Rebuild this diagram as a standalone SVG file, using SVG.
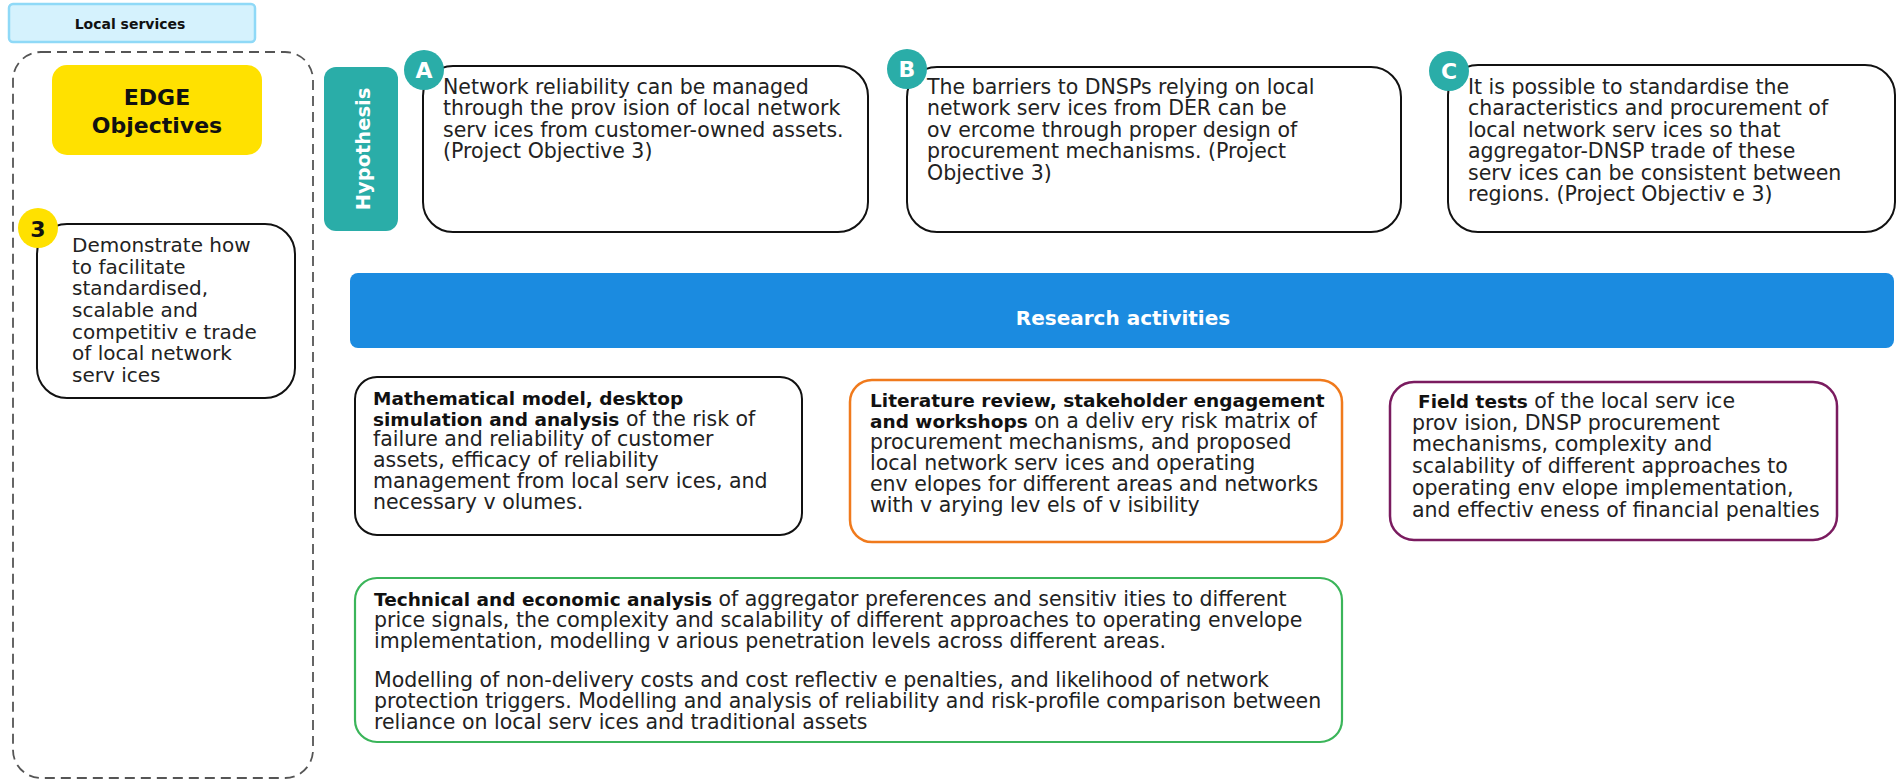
<svg xmlns="http://www.w3.org/2000/svg" width="1904" height="779" viewBox="0 0 1904 779">
<style>
text { font-family: "DejaVu Sans", "Liberation Sans", sans-serif; }
.t { font-size: 20.5px; fill: #222; }
.to { font-size: 20px; fill: #222; }
.b { font-weight: bold; font-size: 18.5px; fill: #111; }
.box { fill: #fff; stroke: #111; stroke-width: 2; }
.teal { fill: #2aada8; }
.letter { font-weight: bold; font-size: 22px; fill: #fff; text-anchor: middle; }
</style>
<rect width="1904" height="779" fill="#fff"/>

<g id="local-services">
  <rect x="9" y="4" width="246" height="38" rx="4" fill="#d5f2fd" stroke="#8fd9f7" stroke-width="2.5"/>
  <text x="130" y="29" text-anchor="middle" style="font-weight:bold;font-size:14px;fill:#111">Local services</text>
</g>

<g id="objectives-panel">
  <rect x="13" y="52" width="300" height="726" rx="28" fill="none" stroke="#555" stroke-width="1.8" stroke-dasharray="10 6"/>
</g>

<g id="edge-objectives">
  <rect x="52" y="65" width="210" height="90" rx="15" fill="#ffe100"/>
  <text x="157" y="105" text-anchor="middle" style="font-weight:bold;font-size:22px;fill:#111">EDGE</text>
  <text x="157" y="133" text-anchor="middle" style="font-weight:bold;font-size:22px;fill:#111">Objectives</text>
</g>

<g id="objective-3">
  <rect class="box" x="37" y="224" width="258" height="174" rx="30"/>
  <circle cx="38" cy="228" r="20" fill="#ffe100"/>
  <text x="38" y="237" text-anchor="middle" style="font-weight:bold;font-size:22px;fill:#111">3</text>
  <text class="to">
    <tspan x="72" y="252">Demonstrate how</tspan>
    <tspan x="72" y="273.7">to facilitate</tspan>
    <tspan x="72" y="295.3">standardised,</tspan>
    <tspan x="72" y="317">scalable and</tspan>
    <tspan x="72" y="338.7">competitiv e trade</tspan>
    <tspan x="72" y="360.3">of local network</tspan>
    <tspan x="72" y="382">serv ices</tspan>
  </text>
</g>

<g id="hypothesis-label">
  <rect class="teal" x="324" y="67" width="74" height="164" rx="12"/>
  <text transform="translate(370,149) rotate(-90)" text-anchor="middle" style="font-weight:bold;font-size:19.5px;fill:#fff">Hypothesis</text>
</g>

<g id="hypothesis-a">
  <rect class="box" x="423" y="66" width="445" height="166" rx="30"/>
  <circle class="teal" cx="424" cy="70" r="20"/>
  <text class="letter" x="424" y="78">A</text>
  <text class="t">
    <tspan x="443" y="94">Network reliability can be managed</tspan>
    <tspan x="443" y="115.4">through the prov ision of local network</tspan>
    <tspan x="443" y="136.8">serv ices from customer-owned assets.</tspan>
    <tspan x="443" y="158.2">(Project Objective 3)</tspan>
  </text>
</g>

<g id="hypothesis-b">
  <rect class="box" x="907" y="67" width="494" height="165" rx="30"/>
  <circle class="teal" cx="907" cy="69" r="20"/>
  <text class="letter" x="907" y="77">B</text>
  <text class="t">
    <tspan x="927" y="94">The barriers to DNSPs relying on local</tspan>
    <tspan x="927" y="115.4">network serv ices from DER can be</tspan>
    <tspan x="927" y="136.8">ov ercome through proper design of</tspan>
    <tspan x="927" y="158.2">procurement mechanisms. (Project</tspan>
    <tspan x="927" y="179.6">Objective 3)</tspan>
  </text>
</g>

<g id="hypothesis-c">
  <rect class="box" x="1448" y="65" width="447" height="167" rx="30"/>
  <circle class="teal" cx="1449" cy="71" r="20"/>
  <text class="letter" x="1449" y="79">C</text>
  <text class="t">
    <tspan x="1468" y="94">It  is possible to standardise the</tspan>
    <tspan x="1468" y="115.4">characteristics and procurement of</tspan>
    <tspan x="1468" y="136.8">local network serv ices so that</tspan>
    <tspan x="1468" y="158.2">aggregator-DNSP trade of these</tspan>
    <tspan x="1468" y="179.6">serv ices can be consistent between</tspan>
    <tspan x="1468" y="201">regions. (Project Objectiv e 3)</tspan>
  </text>
</g>

<g id="research-activities">
  <rect x="350" y="273" width="1544" height="75" rx="8" fill="#1b8be0"/>
  <text x="1123" y="325" text-anchor="middle" style="font-weight:bold;font-size:20px;fill:#fff">Research activities</text>
</g>

<g id="activity-modelling">
  <rect class="box" x="355" y="377" width="447" height="158" rx="22"/>
  <text class="t">
    <tspan x="373" y="405" class="b">Mathematical model, desktop</tspan>
    <tspan x="373" y="425.7"><tspan class="b">simulation and analysis</tspan> of the risk of</tspan>
    <tspan x="373" y="446.4">failure and reliability of customer</tspan>
    <tspan x="373" y="467.1">assets, efficacy of reliability</tspan>
    <tspan x="373" y="487.8">management from local serv ices, and</tspan>
    <tspan x="373" y="508.5">necessary v olumes.</tspan>
  </text>
</g>

<g id="activity-literature">
  <rect x="850" y="380" width="492" height="162" rx="22" fill="#fff" stroke="#f07a1c" stroke-width="2.5"/>
  <text class="t">
    <tspan x="870" y="407" class="b">Literature review, stakeholder engagement</tspan>
    <tspan x="870" y="428"><tspan class="b">and workshops</tspan> on a deliv ery risk matrix of</tspan>
    <tspan x="870" y="449">procurement mechanisms, and proposed</tspan>
    <tspan x="870" y="470">local network serv ices and operating</tspan>
    <tspan x="870" y="491">env elopes for different areas and networks</tspan>
    <tspan x="870" y="512">with v arying lev els of v isibility</tspan>
  </text>
</g>

<g id="activity-field-tests">
  <rect x="1390" y="382" width="447" height="158" rx="24" fill="#fff" stroke="#7a1b5f" stroke-width="2.5"/>
  <text class="t">
    <tspan x="1418" y="408"><tspan class="b">Field tests</tspan> of the local serv ice</tspan>
    <tspan x="1412" y="429.7">prov ision, DNSP procurement</tspan>
    <tspan x="1412" y="451.4">mechanisms, complexity and</tspan>
    <tspan x="1412" y="473.1">scalability of different approaches to</tspan>
    <tspan x="1412" y="494.8">operating env elope implementation,</tspan>
    <tspan x="1412" y="516.5">and effectiv eness of financial penalties</tspan>
  </text>
</g>

<g id="activity-analysis">
  <rect x="355" y="578" width="987" height="164" rx="22" fill="#fff" stroke="#3bb55a" stroke-width="2.2"/>
  <text class="t">
    <tspan x="374" y="606"><tspan class="b">Technical and economic analysis</tspan> of aggregator preferences and sensitiv ities to different</tspan>
    <tspan x="374" y="627">price signals, the complexity and scalability of different approaches to operating envelope</tspan>
    <tspan x="374" y="648">implementation, modelling v arious penetration levels across different areas.</tspan>
    <tspan x="374" y="687">Modelling of non-delivery costs and cost reflectiv e penalties, and likelihood of network</tspan>
    <tspan x="374" y="708">protection triggers. Modelling and analysis of reliability and risk-profile comparison between</tspan>
    <tspan x="374" y="729">reliance on local serv ices and traditional assets</tspan>
  </text>
</g>

<g id="connectors"></g>
</svg>
